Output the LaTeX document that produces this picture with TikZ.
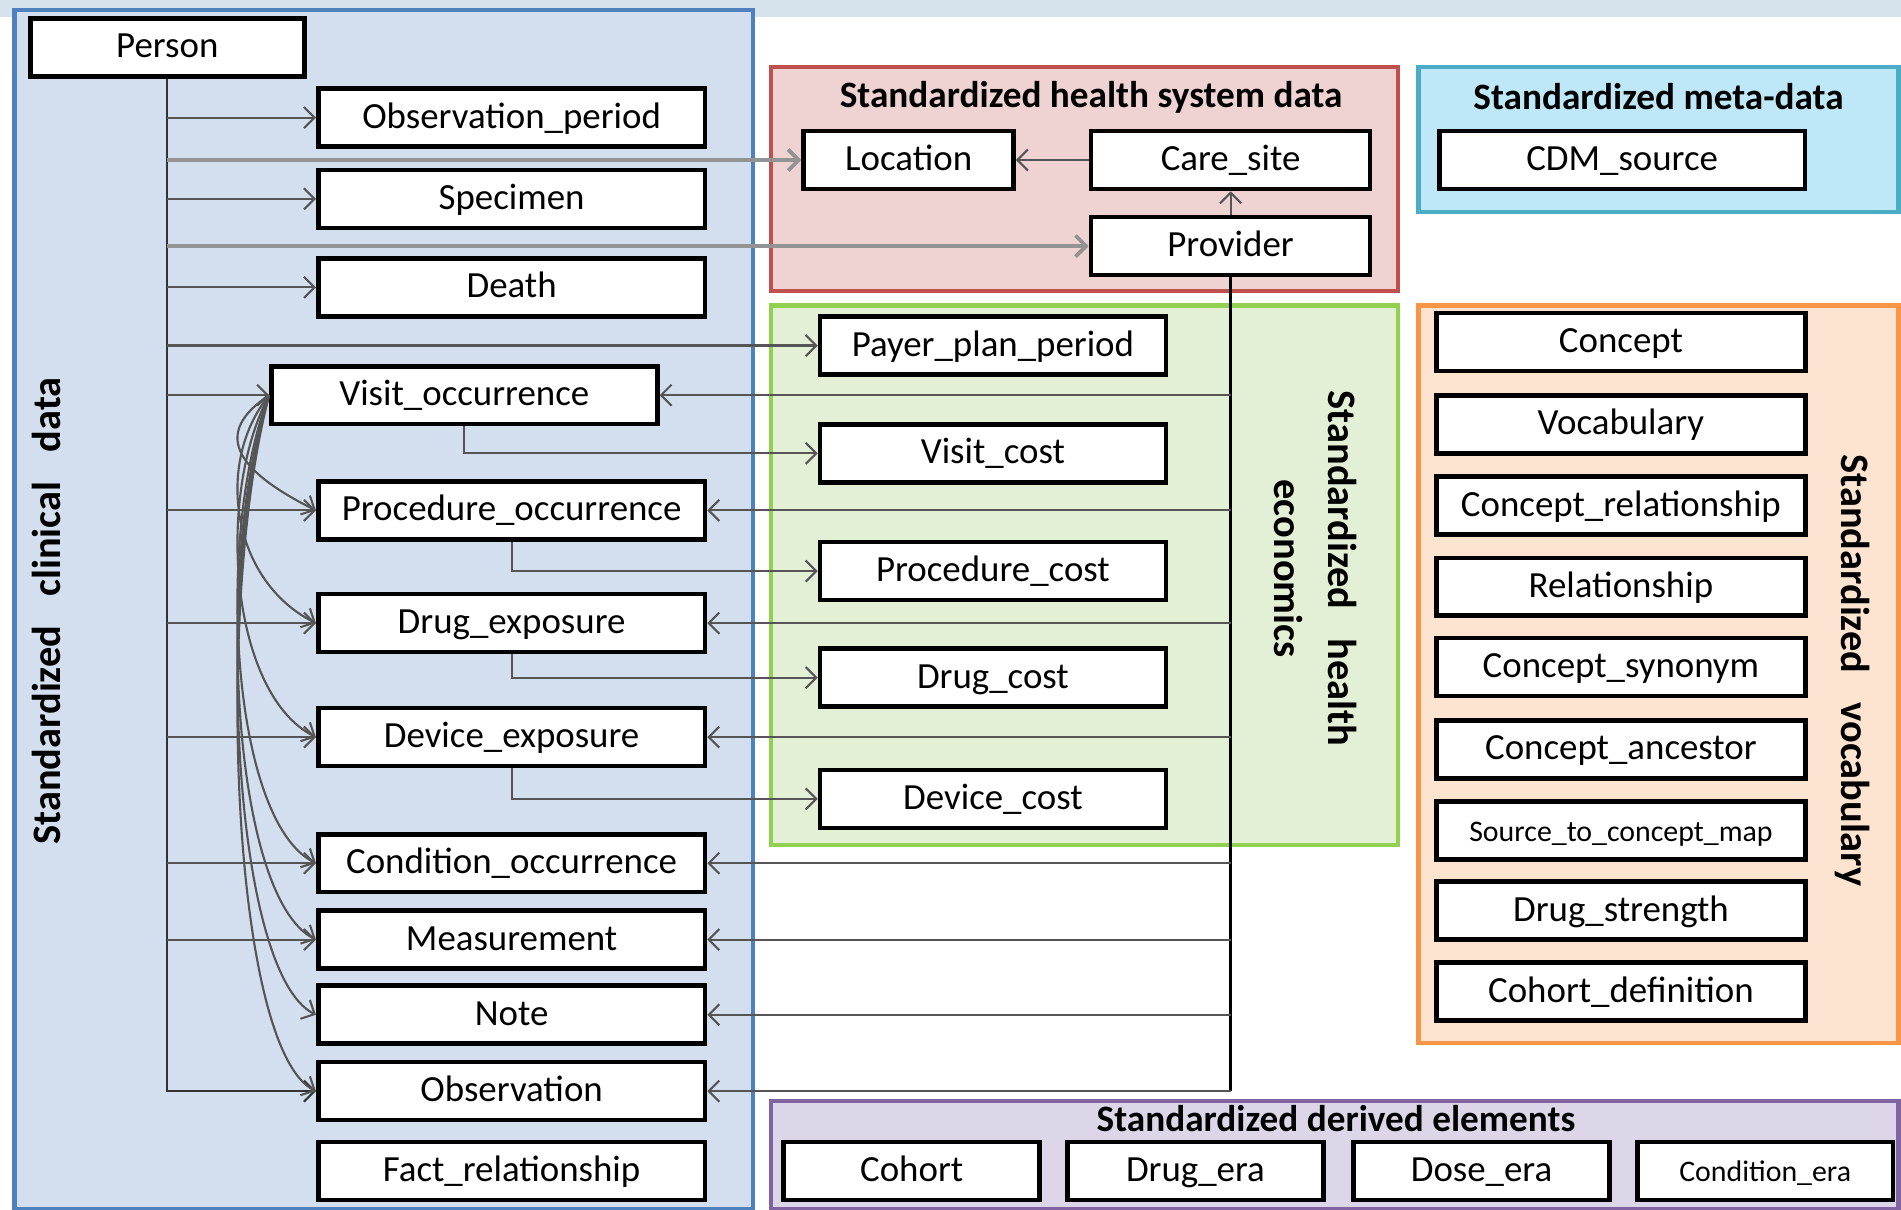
\documentclass[tikz,border=0pt]{standalone}
\usepackage{fontspec}
\setmainfont{Carlito}
\usetikzlibrary{arrows.meta}

\definecolor{clinfill}{RGB}{211,223,238}
\definecolor{clinline}{RGB}{79,129,189}
\definecolor{sysfill}{RGB}{239,210,210}
\definecolor{sysline}{RGB}{192,80,77}
\definecolor{econfill}{RGB}{228,240,214}
\definecolor{econline}{RGB}{146,208,80}
\definecolor{metafill}{RGB}{190,232,248}
\definecolor{metaline}{RGB}{75,172,198}
\definecolor{vocfill}{RGB}{253,228,208}
\definecolor{vocline}{RGB}{247,150,70}
\definecolor{derfill}{RGB}{221,214,232}
\definecolor{derline}{RGB}{128,100,162}
\definecolor{topband}{RGB}{214,226,236}
\definecolor{wire}{RGB}{85,85,85}

\begin{document}
\begin{tikzpicture}[x=0.012124cm,y=-0.012124cm,
    tbl/.style={draw,fill=white,line width=1.3pt,minimum height=0.58cm,inner sep=0pt,
      text height=7.5pt,text depth=1.5pt,font=\fontsize{10.5}{12}\selectfont},
    panel/.style={line width=1.2pt},
    paneltitle/.style={font=\fontsize{10.6}{12}\selectfont\bfseries},
    sidetitle/.style={font=\fontsize{11.5}{15.5}\selectfont\bfseries,align=center},
    link/.style={draw=wire,line width=0.6pt,-{Straight Barb[length=3pt,width=6pt]}},
    fatlink/.style={link,draw=gray!85,line width=1.1pt},
    trunk/.style={draw=black,line width=0.8pt}]

    \useasboundingbox (0,0) rectangle (1568,998);
    \fill[topband] (0,0) rectangle (1568,14);

    % groups
    \draw[panel,draw=clinline,fill=clinfill] (12,8) rectangle (621,997);
    \draw[panel,draw=sysline,fill=sysfill] (636,55) rectangle (1153,240);
    \draw[panel,draw=econline,fill=econfill] (636,252) rectangle (1153,697);
    \draw[panel,draw=metaline,fill=metafill] (1170,55) rectangle (1566,175);
    \draw[panel,draw=vocline,fill=vocfill] (1170,252) rectangle (1566,860);
    \draw[panel,draw=derline,fill=derfill] (636,908) rectangle (1566,997);

    \node[paneltitle] (systitle) at (900,80) {Standardized health system data};
    \node[paneltitle] (metatitle) at (1368,80) {Standardized meta-data};
    \node[paneltitle] (dertitle) at (1102,923) {Standardized derived elements};
    \node[sidetitle,rotate=90] (clintitle) at (38,504) {Standardized\hspace{0.5em} clinical\hspace{0.5em} data};
    \node[sidetitle,rotate=-90] (econtitle) at (1085,469) {Standardized\hspace{0.5em} health\\economics};
    \node[sidetitle,rotate=-90] (voctitle) at (1528,553) {Standardized\hspace{0.5em} vocabulary};

    % tables
    \node[tbl,minimum width=2.74cm] (person) at (138,39) {Person};
    \node[tbl,minimum width=3.86cm] (visit) at (383,326) {Visit\_occurrence};
    \foreach \n/\lbl/\y in {obsper/Observation\_period/97, spec/Specimen/164, death/Death/237,
        proc/Procedure\_occurrence/421, drug/Drug\_exposure/514, dev/Device\_exposure/608,
        cond/Condition\_occurrence/712, meas/Measurement/775, note/Note/837,
        obs/Observation/900, fact/Fact\_relationship/966}
      \node[tbl,minimum width=3.87cm] (\n) at (422,\y) {\lbl};

    \node[tbl,minimum width=2.10cm] (location) at (749.5,132) {Location};
    \node[tbl,minimum width=2.79cm] (caresite) at (1015,132) {Care\_site};
    \node[tbl,minimum width=2.79cm] (provider) at (1015,203) {Provider};

    \foreach \n/\lbl/\y in {payer/Payer\_plan\_period/285, visitcost/Visit\_cost/374,
        proccost/Procedure\_cost/471, drugcost/Drug\_cost/559, devcost/Device\_cost/659}
      \node[tbl,minimum width=3.46cm] (\n) at (819,\y) {\lbl};

    \node[tbl,minimum width=3.66cm] (cdmsrc) at (1338,132) {CDM\_source};

    \foreach \n/\lbl/\y in {concept/Concept/282, vocab/Vocabulary/350, conrel/Concept\_relationship/417,
        rel/Relationship/484, consyn/Concept\_synonym/550, conanc/Concept\_ancestor/618,
        drugstr/Drug\_strength/751, cohdef/Cohort\_definition/818}
      \node[tbl,minimum width=3.69cm] (\n) at (1337,\y) {\lbl};
    \node[tbl,minimum width=3.69cm,font=\fontsize{8.5}{10}\selectfont] (srcmap) at (1337,685) {Source\_to\_concept\_map};

    \foreach \n/\lbl/\x in {cohort/Cohort/752, drugera/Drug\_era/986, doseera/Dose\_era/1222}
      \node[tbl,minimum width=2.56cm] (\n) at (\x,966) {\lbl};
    \node[tbl,minimum width=2.56cm,font=\fontsize{8.5}{10}\selectfont] (condera) at (1456,966) {Condition\_era};

    % person links
    \draw[link,draw=black!80] (person.south) -- (person.south |- obs.west) -- (obs.west);
    \foreach \n in {obsper,spec,death,visit,proc,drug,dev,cond,meas,payer}
      \draw[link] (person.south |- \n.west) -- (\n.west);
    \draw[fatlink] (person.south |- location.west) -- (location.west);
    \draw[fatlink] (person.south |- provider.west) -- (provider.west);

    % health system
    \draw[link] (caresite) -- (location);
    \draw[link] (provider) -- (caresite);
    \draw[trunk] (provider.south) -- (provider.south |- obs.east);
    \foreach \n in {visit,proc,drug,dev,cond,meas,note,obs}
      \draw[link] (provider.south |- \n.east) -- (\n.east);

    % costs
    \draw[link] (visit.south) |- (visitcost.west);
    \draw[link] (proc.south) |- (proccost.west);
    \draw[link] (drug.south) |- (drugcost.west);
    \draw[link] (dev.south) |- (devcost.west);

    % visit to events
    \foreach \n/\c in {proc/30, drug/55, dev/85, cond/115, meas/135, note/150, obs/170}
      \draw[link] (visit.west) .. controls +(-45,\c) and +(-70,-35) .. (\n.west);
\end{tikzpicture}
\end{document}
